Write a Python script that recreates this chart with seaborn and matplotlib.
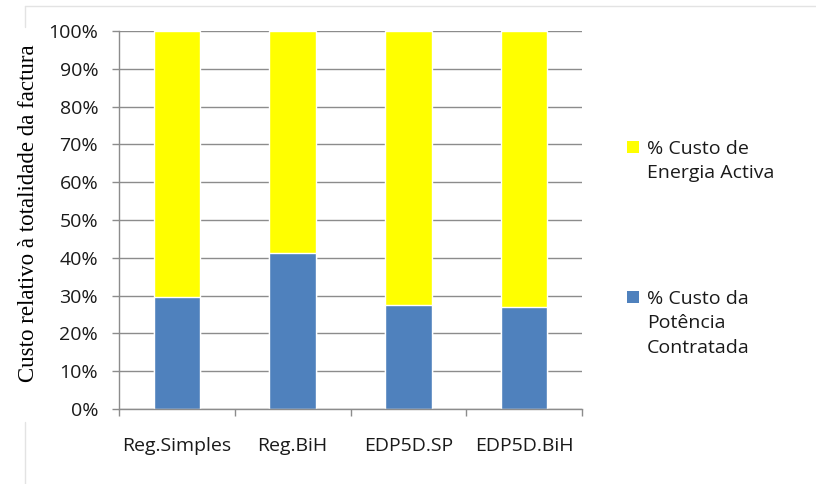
import matplotlib
matplotlib.use("Agg")
import matplotlib.pyplot as plt
from matplotlib.lines import Line2D
from matplotlib.patches import Patch
from matplotlib.ticker import FixedLocator, PercentFormatter
import seaborn as sns
import pandas as pd

# Tariff options and the share of each cost component in the total bill (%)
tarifarios = ["Reg.Simples", "Reg.BiH", "EDP5D.SP", "EDP5D.BiH"]
potencia_contratada = [29.5, 41.2, 27.5, 27.0]
energia_activa = [70.5, 58.8, 72.5, 73.0]
y_ticks = [0, 10, 20, 30, 40, 50, 60, 70, 80, 90, 100]

label_energia = ["% Custo de", "Energia Activa"]
label_potencia = ["% Custo da", "Potência", "Contratada"]
y_label = "Custo relativo à totalidade da factura"

cor_energia = "#FFFF00"
cor_potencia = "#4F81BD"

df = pd.DataFrame({
    "tarifario": tarifarios,
    "potencia": potencia_contratada,
    "energia": energia_activa,
})
df["total"] = df["potencia"] + df["energia"]

sns.set_theme(style="white")
plt.rcParams["font.family"] = ["Open Sans", "DejaVu Sans"]

FS = 14
fig = plt.figure(figsize=(8.16, 4.84), dpi=100)
ax = fig.add_axes([119 / 816, 75 / 484, 463 / 816, 378 / 484])

# Stacked bars: full height in yellow, contracted-power share in blue on top
sns.barplot(data=df, x="tarifario", y="total", color=cor_energia,
            width=0.4, saturation=1, ax=ax, zorder=3)
sns.barplot(data=df, x="tarifario", y="potencia", color=cor_potencia,
            width=0.4, saturation=1, ax=ax, zorder=4)

ax.set_xlim(-0.5, len(tarifarios) - 0.5)
ax.set_ylim(0, 100)
ax.set_yticks(y_ticks)
ax.yaxis.set_major_formatter(PercentFormatter(decimals=0))
ax.grid(axis="y", color="#8c8c8c", linewidth=1.0, zorder=0)
ax.grid(axis="x", visible=False)

for side in ("top", "right"):
    ax.spines[side].set_visible(False)
for side in ("left", "bottom"):
    ax.spines[side].set_color("#8c8c8c")
    ax.spines[side].set_linewidth(1.0)
    ax.spines[side].set_zorder(5)

ax.tick_params(axis="y", which="major", left=True, length=5, width=1,
               color="#8c8c8c", pad=10, labelsize=FS, labelcolor="#1a1a1a")
ax.tick_params(axis="x", which="major", bottom=False, length=0, pad=20,
               labelsize=FS, labelcolor="#1a1a1a")
ax.xaxis.set_minor_locator(FixedLocator([i - 0.5 for i in range(len(tarifarios) + 1)]))
ax.tick_params(axis="x", which="minor", bottom=True, length=5, width=1,
               color="#8c8c8c")

ax.set_xlabel("")
ax.set_ylabel(y_label, family=["Liberation Serif", "DejaVu Serif"],
              fontsize=16.5, color="black")
ax.yaxis.set_label_coords(-0.172, 0.518)


def legend_block(color, lines, top_px):
    """One legend entry whose swatch sits beside the first line of its label."""
    handles = [Patch(facecolor=color, edgecolor="none")]
    handles += [Patch(facecolor="none", edgecolor="none")] * (len(lines) - 1)
    leg = fig.legend(handles, lines, loc="upper left",
                     bbox_to_anchor=(627 / 816, 1 - top_px / 484),
                     frameon=False, fontsize=FS, handlelength=0.62,
                     handleheight=0.55, handletextpad=0.42,
                     labelspacing=0.33, borderpad=0, borderaxespad=0,
                     labelcolor="#1a1a1a")
    return leg


legend_block(cor_energia, label_energia, 140)
legend_block(cor_potencia, label_potencia, 290)

# Thin outline of the chart area
fig.add_artist(Line2D([25 / 816, 1], [1 - 6 / 484, 1 - 6 / 484],
                      color="#e3e3e3", linewidth=1))
fig.add_artist(Line2D([25 / 816, 25 / 816], [1 - 6 / 484, 1 - 27 / 484],
                      color="#e3e3e3", linewidth=1))
fig.add_artist(Line2D([25 / 816, 25 / 816], [1 - 422 / 484, 0],
                      color="#e3e3e3", linewidth=1))

fig.savefig("out.png", dpi=100)
